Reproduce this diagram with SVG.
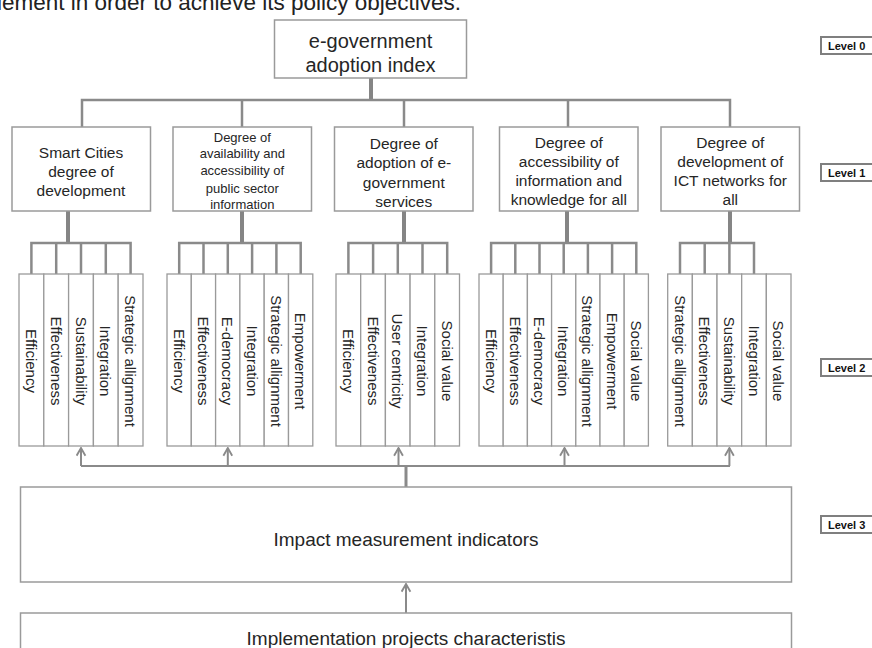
<svg xmlns="http://www.w3.org/2000/svg" width="872" height="648" viewBox="0 0 872 648">
<style>
  .bx{fill:#fff;stroke:#9a9a9a;stroke-width:1.5}
  .col{fill:#fff;stroke:#9a9a9a;stroke-width:1.3}
  .lvl{fill:#fff;stroke:#7f7f7f;stroke-width:2}
  .t{font-family:"Liberation Sans",Arial,sans-serif;fill:#262626;text-anchor:middle}
  .t20{font-size:20px}
  .t19{font-size:19px}
  .t15{font-size:15.5px}
  .t13{font-size:13px}
  .ct{font-family:"Liberation Sans",Arial,sans-serif;fill:#262626;font-size:15px;text-anchor:middle;dominant-baseline:central}
  .lt{font-family:"Liberation Sans",Arial,sans-serif;font-weight:bold;font-size:11px;fill:#111}
  .ln{fill:none;stroke:#8a8a8a;stroke-width:2.5}
  .thk{fill:none;stroke:#858585;stroke-width:4}
  .ar{fill:none;stroke:#8a8a8a;stroke-width:2}
</style>
<defs>
  <marker id="ah" viewBox="0 0 10 10" refX="9" refY="5" markerWidth="11" markerHeight="11" markerUnits="userSpaceOnUse" orient="auto">
    <path d="M2,1 L9,5 L2,9" fill="none" stroke="#8a8a8a" stroke-width="1.7"/>
  </marker>
</defs>
<rect width="872" height="648" fill="#fff"/>

<text x="-3" y="10" style="font-family:'Liberation Sans',Arial,sans-serif;font-size:22.5px;fill:#222">lement in order to achieve its policy objectives.</text>

<g id="connectors">
  <!-- level 0 to level 1 -->
  <line class="thk" x1="371" y1="78" x2="371" y2="100"/>
  <polyline class="ln" points="82,127 82,100 730,100 730,127"/>
  <line class="ln" x1="242" y1="100" x2="242" y2="127"/>
  <line class="ln" x1="404" y1="100" x2="404" y2="127"/>
  <line class="ln" x1="568" y1="100" x2="568" y2="127"/>
  <!-- level 1 stems -->
  <line class="thk" x1="68" y1="211" x2="68" y2="243"/>
  <line class="thk" x1="242" y1="211" x2="242" y2="243"/>
  <line class="thk" x1="404" y1="211" x2="404" y2="243"/>
  <line class="thk" x1="567" y1="211" x2="567" y2="243"/>
  <line class="thk" x1="730" y1="211" x2="730" y2="243"/>
  <!-- group 1 bracket -->
  <polyline class="ln" points="31.4,274 31.4,243 130.6,243 130.6,274"/>
  <line class="ln" x1="56.2" y1="243" x2="56.2" y2="274"/>
  <line class="ln" x1="81" y1="243" x2="81" y2="274"/>
  <line class="ln" x1="105.8" y1="243" x2="105.8" y2="274"/>
  <!-- group 2 bracket -->
  <polyline class="ln" points="179.2,274 179.2,243 300.7,243 300.7,274"/>
  <line class="ln" x1="203.5" y1="243" x2="203.5" y2="274"/>
  <line class="ln" x1="227.8" y1="243" x2="227.8" y2="274"/>
  <line class="ln" x1="252.1" y1="243" x2="252.1" y2="274"/>
  <line class="ln" x1="276.4" y1="243" x2="276.4" y2="274"/>
  <!-- group 3 bracket -->
  <polyline class="ln" points="348.4,274 348.4,243 447.2,243 447.2,274"/>
  <line class="ln" x1="373.1" y1="243" x2="373.1" y2="274"/>
  <line class="ln" x1="397.8" y1="243" x2="397.8" y2="274"/>
  <line class="ln" x1="422.5" y1="243" x2="422.5" y2="274"/>
  <!-- group 4 bracket -->
  <polyline class="ln" points="491.1,274 491.1,243 636.3,243 636.3,274"/>
  <line class="ln" x1="515.3" y1="243" x2="515.3" y2="274"/>
  <line class="ln" x1="539.5" y1="243" x2="539.5" y2="274"/>
  <line class="ln" x1="563.7" y1="243" x2="563.7" y2="274"/>
  <line class="ln" x1="587.9" y1="243" x2="587.9" y2="274"/>
  <line class="ln" x1="612.1" y1="243" x2="612.1" y2="274"/>
  <!-- group 5 bracket -->
  <polyline class="ln" points="680,274 680,243 754,243 754,274"/>
  <line class="ln" x1="704.7" y1="243" x2="704.7" y2="274"/>
  <line class="ln" x1="729.4" y1="243" x2="729.4" y2="274"/>
  <!-- level 3 to level 2 arrows -->
  <line class="ln" x1="81" y1="466" x2="730" y2="466" style="stroke-width:2"/>
  <line class="ar" x1="81" y1="466" x2="81" y2="448" marker-end="url(#ah)"/>
  <line class="ar" x1="227.8" y1="466" x2="227.8" y2="448" marker-end="url(#ah)"/>
  <line class="ar" x1="398.5" y1="466" x2="398.5" y2="448" marker-end="url(#ah)"/>
  <line class="ar" x1="564.5" y1="466" x2="564.5" y2="448" marker-end="url(#ah)"/>
  <line class="ar" x1="729.4" y1="466" x2="729.4" y2="448" marker-end="url(#ah)"/>
  <line class="ln" x1="406" y1="466" x2="406" y2="487" style="stroke-width:3"/>
  <!-- bottom arrow -->
  <line class="ar" x1="406" y1="613" x2="406" y2="584" marker-end="url(#ah)"/>
</g>

<g id="n-index">
  <rect class="bx" x="274.5" y="20" width="192" height="58"/>
  <text class="t t20" x="370.5" y="48">e-government</text>
  <text class="t t20" x="370.5" y="72">adoption index</text>
</g>

<g id="n-smart">
  <rect class="bx" x="12" y="127" width="138.5" height="84"/>
  <text class="t t15" x="81" y="157.5">Smart Cities</text>
  <text class="t t15" x="81" y="176.5">degree of</text>
  <text class="t t15" x="81" y="195.5">development</text>
</g>
<g id="n-availability">
  <rect class="bx" x="173" y="127" width="138.5" height="84"/>
  <text class="t t13" x="242.3" y="141.5">Degree of</text>
  <text class="t t13" x="242.3" y="158">availability and</text>
  <text class="t t13" x="242.3" y="175">accessibility of</text>
  <text class="t t13" x="242.3" y="192.5">public sector</text>
  <text class="t t13" x="242.3" y="209">information</text>
</g>
<g id="n-adoption">
  <rect class="bx" x="334.5" y="127" width="138.5" height="84"/>
  <text class="t t15" x="403.8" y="148.5">Degree of</text>
  <text class="t t15" x="403.8" y="168">adoption of e-</text>
  <text class="t t15" x="403.8" y="187.5">government</text>
  <text class="t t15" x="403.8" y="207">services</text>
</g>
<g id="n-accessibility">
  <rect class="bx" x="499.5" y="127" width="138.5" height="84"/>
  <text class="t t15" x="568.8" y="148">Degree of</text>
  <text class="t t15" x="568.8" y="167">accessibility of</text>
  <text class="t t15" x="568.8" y="186">information and</text>
  <text class="t t15" x="568.8" y="205">knowledge for all</text>
</g>
<g id="n-ict">
  <rect class="bx" x="661" y="127" width="138.5" height="84"/>
  <text class="t t15" x="730.3" y="148">Degree of</text>
  <text class="t t15" x="730.3" y="167">development of</text>
  <text class="t t15" x="730.3" y="186">ICT networks for</text>
  <text class="t t15" x="730.3" y="205">all</text>
</g>

<g id="g1-columns">
  <rect class="col" x="19" y="274" width="24.8" height="172"/>
  <rect class="col" x="43.8" y="274" width="24.8" height="172"/>
  <rect class="col" x="68.6" y="274" width="24.8" height="172"/>
  <rect class="col" x="93.4" y="274" width="24.8" height="172"/>
  <rect class="col" x="118.2" y="274" width="24.8" height="172"/>
  <text class="ct" transform="translate(31.4,361) rotate(90)">Efficiency</text>
  <text class="ct" transform="translate(56.2,361) rotate(90)">Effectiveness</text>
  <text class="ct" transform="translate(81,361) rotate(90)">Sustainability</text>
  <text class="ct" transform="translate(105.8,361) rotate(90)">Integration</text>
  <text class="ct" transform="translate(130.6,361) rotate(90)">Strategic allignment</text>
</g>
<g id="g2-columns">
  <rect class="col" x="167" y="274" width="24.3" height="172"/>
  <rect class="col" x="191.3" y="274" width="24.3" height="172"/>
  <rect class="col" x="215.6" y="274" width="24.3" height="172"/>
  <rect class="col" x="239.9" y="274" width="24.3" height="172"/>
  <rect class="col" x="264.2" y="274" width="24.3" height="172"/>
  <rect class="col" x="288.5" y="274" width="24.3" height="172"/>
  <text class="ct" transform="translate(179.2,361) rotate(90)">Efficiency</text>
  <text class="ct" transform="translate(203.5,361) rotate(90)">Effectiveness</text>
  <text class="ct" transform="translate(227.8,361) rotate(90)">E-democracy</text>
  <text class="ct" transform="translate(252.1,361) rotate(90)">Integration</text>
  <text class="ct" transform="translate(276.4,361) rotate(90)">Strategic allignment</text>
  <text class="ct" transform="translate(300.7,361) rotate(90)">Empowerment</text>
</g>
<g id="g3-columns">
  <rect class="col" x="336" y="274" width="24.7" height="172"/>
  <rect class="col" x="360.7" y="274" width="24.7" height="172"/>
  <rect class="col" x="385.4" y="274" width="24.7" height="172"/>
  <rect class="col" x="410.1" y="274" width="24.7" height="172"/>
  <rect class="col" x="434.8" y="274" width="24.7" height="172"/>
  <text class="ct" transform="translate(348.4,361) rotate(90)">Efficiency</text>
  <text class="ct" transform="translate(373.1,361) rotate(90)">Effectiveness</text>
  <text class="ct" transform="translate(397.8,361) rotate(90)">User centricity</text>
  <text class="ct" transform="translate(422.5,361) rotate(90)">Integration</text>
  <text class="ct" transform="translate(447.2,361) rotate(90)">Social value</text>
</g>
<g id="g4-columns">
  <rect class="col" x="479" y="274" width="24.2" height="172"/>
  <rect class="col" x="503.2" y="274" width="24.2" height="172"/>
  <rect class="col" x="527.4" y="274" width="24.2" height="172"/>
  <rect class="col" x="551.6" y="274" width="24.2" height="172"/>
  <rect class="col" x="575.8" y="274" width="24.2" height="172"/>
  <rect class="col" x="600" y="274" width="24.2" height="172"/>
  <rect class="col" x="624.2" y="274" width="24.2" height="172"/>
  <text class="ct" transform="translate(491.1,361) rotate(90)">Efficiency</text>
  <text class="ct" transform="translate(515.3,361) rotate(90)">Effectiveness</text>
  <text class="ct" transform="translate(539.5,361) rotate(90)">E-democracy</text>
  <text class="ct" transform="translate(563.7,361) rotate(90)">Integration</text>
  <text class="ct" transform="translate(587.9,361) rotate(90)">Strategic allignment</text>
  <text class="ct" transform="translate(612.1,361) rotate(90)">Empowerment</text>
  <text class="ct" transform="translate(636.3,361) rotate(90)">Social value</text>
</g>
<g id="g5-columns">
  <rect class="col" x="667.7" y="274" width="24.66" height="172"/>
  <rect class="col" x="692.36" y="274" width="24.66" height="172"/>
  <rect class="col" x="717.02" y="274" width="24.66" height="172"/>
  <rect class="col" x="741.68" y="274" width="24.66" height="172"/>
  <rect class="col" x="766.34" y="274" width="24.66" height="172"/>
  <text class="ct" transform="translate(680,361) rotate(90)">Strategic allignment</text>
  <text class="ct" transform="translate(704.7,361) rotate(90)">Effectiveness</text>
  <text class="ct" transform="translate(729.4,361) rotate(90)">Sustainability</text>
  <text class="ct" transform="translate(754,361) rotate(90)">Integration</text>
  <text class="ct" transform="translate(778.7,361) rotate(90)">Social value</text>
</g>

<g id="n-impact">
  <rect class="bx" x="20.5" y="487" width="771" height="95"/>
  <text class="t t19" x="406" y="546">Impact measurement indicators</text>
</g>
<g id="n-implementation">
  <rect class="bx" x="20.5" y="613" width="771" height="50"/>
  <text class="t t19" x="406" y="645">Implementation projects characteristis</text>
</g>

<g id="n-level0"><rect class="lvl" x="821" y="37" width="60" height="17"/><text class="lt" x="828" y="49.5">Level 0</text></g>
<g id="n-level1"><rect class="lvl" x="821" y="164" width="60" height="17"/><text class="lt" x="828" y="176.5">Level 1</text></g>
<g id="n-level2"><rect class="lvl" x="821" y="359" width="60" height="17"/><text class="lt" x="828" y="371.5">Level 2</text></g>
<g id="n-level3"><rect class="lvl" x="821" y="516" width="60" height="17"/><text class="lt" x="828" y="528.5">Level 3</text></g>
</svg>
